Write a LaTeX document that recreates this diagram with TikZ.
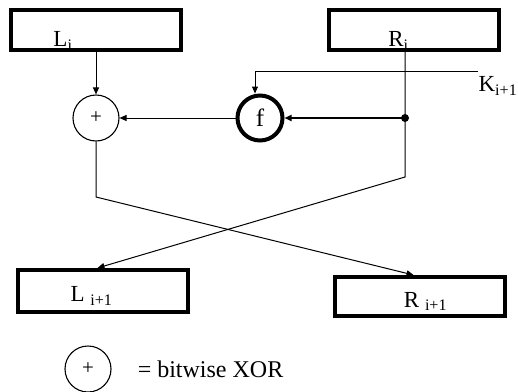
\documentclass[tikz,border=0pt]{standalone}
\usepackage{fontspec}
\setmainfont{Liberation Serif}
\usetikzlibrary{arrows.meta, positioning, calc}
\tikzset{
  block/.style={rectangle, draw=black, line width=4pt, fill=white,
                minimum width=170pt, minimum height=40pt, inner sep=0pt},
  txt/.style={font=\fontsize{23}{25}\selectfont, inner sep=0pt},
  xorop/.style={circle, draw=black, line width=1.1pt, minimum size=46pt,
                inner sep=0pt, font=\fontsize{21}{21}\selectfont},
  fop/.style={circle, draw=black, line width=4pt, minimum size=45pt,
              inner sep=0pt, font=\fontsize{25}{25}\selectfont},
  dot/.style={circle, fill=black, minimum size=8pt, inner sep=0pt},
  arrow/.style={-{Triangle[length=7pt, width=6pt]}, line width=1pt, draw=black},
  thickarrow/.style={arrow, line width=2.6pt},
}
\begin{document}
\begin{tikzpicture}[x=1pt, y=-1pt]
  \useasboundingbox (0,0) rectangle (518,391);

  % input halves
  \node[block, label={[txt, xshift=-33pt, yshift=-11pt]center:L\textsubscript{i}}] (li) at (96,30) {};
  \node[block, label={[txt, xshift=-15pt, yshift=-11pt]center:R\textsubscript{i}}] (ri) at (413.5,30) {};

  % round function
  \node[xorop] (xor) at (96,118) {+};
  \node[fop] (f) at (260,118) {f};
  \node[dot] (tap) at (405,118) {};
  \coordinate (kin) at (478,71);
  \node[txt, anchor=east] (klbl) at (517.5,86) {K\textsubscript{i+1}};

  % output halves
  \node[block, minimum height=42pt,
        label={[txt, xshift=-11pt, yshift=-5pt]center:L \textsubscript{i+1}}] (lo) at (102.5,291) {};
  \node[block, minimum height=39pt,
        label={[txt, xshift=6pt, yshift=-5pt]center:R \textsubscript{i+1}}] (ro) at (419.5,296.5) {};

  \coordinate (rbend) at (405,177);
  \coordinate (lbend) at (96,197);

  \draw[arrow] (li) -- (xor);
  \draw[arrow] (kin) -| ([xshift=-5pt]f.north);
  \draw[thickarrow] (tap.center) -- (f);
  \draw[arrow] (f) -- (xor);
  \draw[arrow] (ri.south -| tap) -- (rbend) -- ([xshift=-5pt]lo.north);
  \draw[arrow] (xor) -- (lbend) -- ([xshift=-6pt]ro.north);

  % legend
  \node[xorop] (xorkey) at (88,369) {+};
  \node[anchor=west, inner sep=0pt, font=\fontsize{24}{26}\selectfont,
        right=26pt of xorkey] (keytxt) {= bitwise XOR};
\end{tikzpicture}
\end{document}
